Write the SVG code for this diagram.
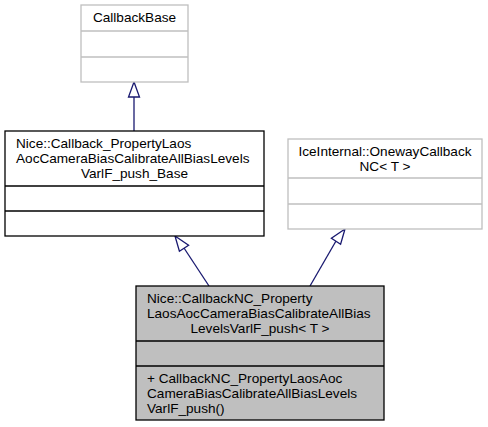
<svg xmlns="http://www.w3.org/2000/svg" width="488" height="427" viewBox="0 0 488 427">
<style>
text{font-family:"Liberation Sans",Arial,sans-serif;font-size:13.6px;fill:#000}
.g rect,.g line{stroke:#bfbfbf;stroke-width:1.3;fill:#fff}
.b rect,.b line{stroke:#000;stroke-width:1.3;fill:#fff}
.s rect,.s line{stroke:#000;stroke-width:1.3;fill:#bfbfbf}
.e{stroke:#191970;stroke-width:1.3;fill:none}
.h{stroke:#191970;stroke-width:1.3;fill:#fff}
</style>
<rect width="488" height="427" fill="#fff"/>
<g id="connectors">
<line class="e" x1="134" y1="131" x2="134" y2="97"/>
<polygon class="h" points="134,82 128.5,97 139.5,97"/>
<line class="e" x1="209" y1="286" x2="184" y2="248"/>
<polygon class="h" points="175,236 179.4,251.2 188.6,245.2"/>
<line class="e" x1="310" y1="286" x2="336" y2="241"/>
<polygon class="h" points="345,229 331.4,238.2 340.6,244.2"/>
</g>
<g id="CallbackBase" class="g">
<rect x="81" y="5" width="107" height="77"/>
<line x1="81" y1="31" x2="188" y2="31"/>
<line x1="81" y1="57" x2="188" y2="57"/>
<text x="134.5" y="22" text-anchor="middle">CallbackBase</text>
</g>
<g id="CallbackBase_push" class="b">
<rect x="5" y="131" width="259" height="105"/>
<line x1="5" y1="186" x2="264" y2="186"/>
<line x1="5" y1="211" x2="264" y2="211"/>
<text x="16" y="148">Nice::Callback_PropertyLaos</text>
<text x="16" y="163">AocCameraBiasCalibrateAllBiasLevels</text>
<text x="134.5" y="178" text-anchor="middle">VarlF_push_Base</text>
</g>
<g id="OnewayCallbackNC" class="g">
<rect x="288" y="139" width="194" height="90"/>
<line x1="288" y1="178" x2="482" y2="178"/>
<line x1="288" y1="204" x2="482" y2="204"/>
<text x="385" y="156" text-anchor="middle">IceInternal::OnewayCallback</text>
<text x="385" y="171" text-anchor="middle">NC&lt; T &gt;</text>
</g>
<g id="CallbackNC_push" class="s">
<rect x="136" y="286" width="248" height="134"/>
<line x1="136" y1="341" x2="384" y2="341"/>
<line x1="136" y1="366" x2="384" y2="366"/>
<text x="147" y="303">Nice::CallbackNC_Property</text>
<text x="147" y="318">LaosAocCameraBiasCalibrateAllBias</text>
<text x="260" y="333" text-anchor="middle">LevelsVarlF_push&lt; T &gt;</text>
<text x="147" y="383">+ CallbackNC_PropertyLaosAoc</text>
<text x="147" y="398">CameraBiasCalibrateAllBiasLevels</text>
<text x="147" y="413">VarlF_push()</text>
</g>
</svg>
